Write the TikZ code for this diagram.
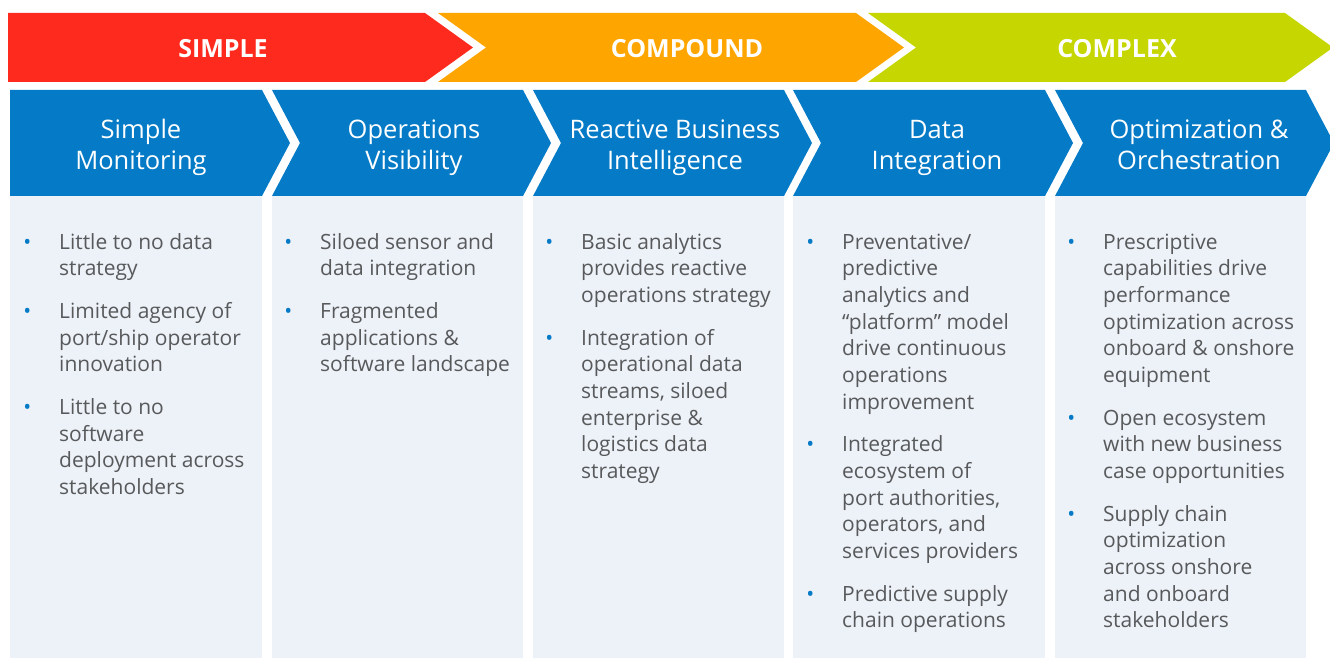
\documentclass[tikz,border=0pt]{standalone}
\usepackage{fontspec}
\setmainfont{Open Sans}
\definecolor{cred}{RGB}{254,42,30}
\definecolor{corange}{RGB}{255,165,0}
\definecolor{cgreen}{RGB}{197,214,0}
\definecolor{cblue}{RGB}{5,122,198}
\definecolor{cpanel}{RGB}{237,242,249}
\definecolor{ctext}{RGB}{88,89,91}
\newcommand\bul{\strut\llap{{\fontsize{21}{21}\selectfont\color{cblue}\textbullet}\hspace{28pt}}}
\begin{document}
\begin{tikzpicture}[x=1pt,y=-1pt,
  hdr/.style={text=white,font=\fontsize{25}{30}\selectfont\bfseries,anchor=base,inner sep=0},
  ttl/.style={text=white,font=\fontsize{25.5}{31}\selectfont,align=center,anchor=north,inner sep=0},
  body/.style={text=ctext,font=\fontsize{21}{26.67}\selectfont,align=left,anchor=north west,inner sep=0}]
\useasboundingbox (0,0) rectangle (1330,658);
% stage arrows
\fill[cred] (8,13) -- (425,13) -- (473,47.5) -- (425,82) -- (8,82) -- cycle;
\fill[corange] (438,13) -- (856,13) -- (904,47.5) -- (856,82) -- (438,82) -- (486,47.5) -- cycle;
\fill[cgreen] (868,13) -- (1285,13) -- (1333,47.5) -- (1285,82) -- (868,82) -- (916,47.5) -- cycle;
\node[hdr] (h1) at (223,58) {SIMPLE};
\node[hdr] (h2) at (687,58) {COMPOUND};
\node[hdr] (h3) at (1117,58) {COMPLEX};
% chevrons
\fill[cblue] (10,90) -- (262,90) -- (290,143) -- (262,196) -- (10,196) -- cycle;
\fill[cblue] (272,90) -- (523,90) -- (551,143) -- (523,196) -- (272,196) -- (300,143) -- cycle;
\fill[cblue] (533,90) -- (784,90) -- (812,143) -- (784,196) -- (533,196) -- (561,143) -- cycle;
\fill[cblue] (793,90) -- (1045,90) -- (1073,143) -- (1045,196) -- (793,196) -- (821,143) -- cycle;
\fill[cblue] (1055,90) -- (1306,90) -- (1334,143) -- (1306,196) -- (1055,196) -- (1083,143) -- cycle;
% panels
\fill[cpanel] (10,196) rectangle (262,658);
\fill[cpanel] (272,196) rectangle (523,658);
\fill[cpanel] (533,196) rectangle (784,658);
\fill[cpanel] (793,196) rectangle (1045,658);
\fill[cpanel] (1055,196) rectangle (1306,658);
% titles
\node[ttl] (t1) at (141,116.3) {\strut Simple\\Monitoring};
\node[ttl] (t2) at (414,116.3) {\strut Operations\\Visibility};
\node[ttl] (t3) at (675,116.3) {\strut Reactive Business\\Intelligence};
\node[ttl] (t4) at (937,116.3) {\strut Data\\Integration};
\node[ttl] (t5) at (1199,116.3) {\strut Optimization \&\\Orchestration};
% bodies
\node[body] (c1) at (59,230.33) {\bul Little to no data\\strategy\\[16pt]
 \bul Limited agency of\\port/ship operator\\innovation\\[16pt]
 \bul Little to no\\software\\deployment across\\stakeholders};
\node[body] (c2) at (320,230.33) {\bul Siloed sensor and\\data integration\\[16pt]
 \bul Fragmented\\applications \&\\software landscape};
\node[body] (c3) at (581,230.33) {\bul Basic analytics\\provides reactive\\operations strategy\\[16pt]
 \bul Integration of\\operational data\\streams, siloed\\enterprise \&\\logistics data\\strategy};
\node[body] (c4) at (842,230.33) {\bul Preventative/\\predictive\\analytics and\\“platform” model\\drive continuous\\operations\\improvement\\[16pt]
 \bul Integrated\\ecosystem of\\port authorities,\\operators, and\\services providers\\[16pt]
 \bul Predictive supply\\chain operations};
\node[body] (c5) at (1103,230.33) {\bul Prescriptive\\capabilities drive\\performance\\optimization across\\onboard \& onshore\\equipment\\[16pt]
 \bul Open ecosystem\\with new business\\case opportunities\\[16pt]
 \bul Supply chain\\optimization\\across onshore\\and onboard\\stakeholders};
\end{tikzpicture}
\end{document}
